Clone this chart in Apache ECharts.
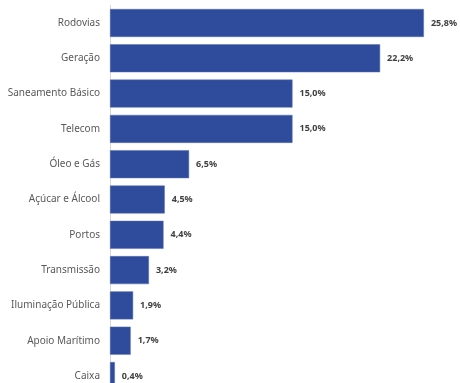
<!DOCTYPE html>
<html>
<head>
<meta charset="utf-8">
<script src="https://cdn.jsdelivr.net/npm/echarts@6/dist/echarts.min.js"></script>
<style>html,body{margin:0;padding:0;background:#fff;}#c{width:460px;height:383px;}</style>
</head>
<body>
<div id="c"></div>
<script>
const categories = ["Rodovias","Geração","Saneamento Básico","Telecom","Óleo e Gás","Açúcar e Álcool","Portos","Transmissão","Iluminação Pública","Apoio Marítimo","Caixa"];
const values = [25.8, 22.2, 15.0, 15.0, 6.5, 4.5, 4.4, 3.2, 1.9, 1.7, 0.4];

const chart = echarts.init(document.getElementById('c'), null, {renderer:'canvas'});
chart.setOption({
  animation: false,
  backgroundColor: '#ffffff',
  grid: { left: 110, top: 5.35, width: 365, height: 388.3, containLabel: false, outerBoundsMode: 'none' },
  xAxis: { type: 'value', min: 0, max: 30, show: false },
  yAxis: {
    type: 'category', data: categories, inverse: true,
    axisLine: { show: true, lineStyle: { color: '#D9D9D9', width: 1 } },
    axisTick: { show: false },
    axisLabel: { color: '#595959', fontFamily: 'Noto Sans', fontSize: 10, margin: 10 }
  },
  series: [{
    type: 'bar', data: values, barCategoryGap: '20.7%',
    itemStyle: { color: '#2F4B9B', borderColor: '#5A70B0', borderWidth: 0.5 },
    label: {
      show: true, position: 'right', distance: 7,
      color: '#404040', fontFamily: 'Noto Sans', fontWeight: 'bold', fontSize: 9,
      formatter: p => p.value.toFixed(1).replace('.', ',') + '%'
    }
  }]
});
</script>
</body>
</html>
